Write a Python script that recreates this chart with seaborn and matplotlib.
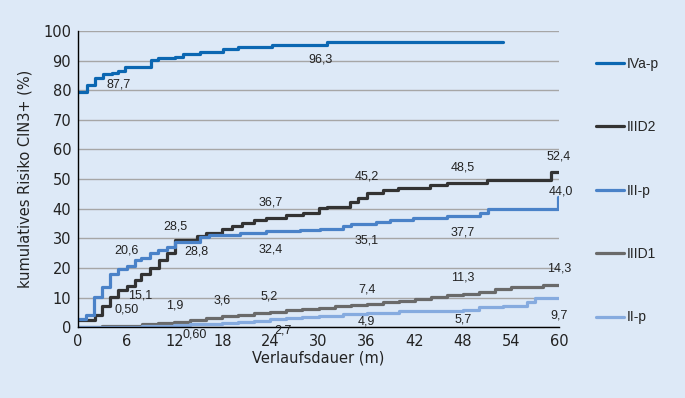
import pandas as pd
import matplotlib
matplotlib.use("Agg")
import matplotlib.pyplot as plt
import seaborn as sns

# step curves: month of each step and cumulative risk after it
iva_m = [0, 1.1, 2.1, 3.1, 4.2, 5.0, 5.9, 9.1, 10.0, 12.1, 13.1, 15.2, 18.1, 20.0, 24.2, 31.0, 53]
iva_v = [79.5, 81.8, 84.3, 85.4, 85.9, 86.6, 87.7, 90.2, 90.8, 91.3, 92.1, 93.0, 93.8, 94.5, 95.3, 96.3, 96.3]

iiid2_m = [0, 2.1, 3.0, 4.0, 5.0, 6.1, 7.1, 7.9, 9.0, 10.1, 11.1, 12.1, 14.8, 16.0, 17.9, 19.2, 20.5,
           22.0, 23.5, 26.0, 28.1, 30.0, 31.0, 33.9, 34.9, 36.0, 38.1, 39.9, 43.9, 46.0, 51.0, 59.0, 60]
iiid2_v = [2.4, 4.1, 7.1, 10.2, 12.5, 13.9, 15.9, 18.1, 19.9, 22.6, 24.9, 29.5, 30.7, 31.9, 33.0, 34.2, 35.3,
           36.2, 36.7, 37.8, 38.6, 40.1, 40.6, 42.3, 43.5, 45.4, 46.3, 47.1, 48.0, 48.8, 49.7, 52.4, 52.4]

iiip_m = [0, 1.0, 2.0, 3.0, 4.0, 5.0, 6.1, 7.1, 7.9, 9.0, 10.0, 11.1, 12.1, 15.2, 16.3, 20.2, 23.5,
          27.7, 30.2, 33.1, 34.1, 37.2, 38.9, 41.8, 46.0, 50.1, 51.2, 59.9, 60]
iiip_v = [2.9, 4.1, 10.2, 13.4, 18.1, 19.5, 20.6, 22.6, 23.5, 24.9, 26.0, 27.1, 28.8, 30.3, 31.1, 31.9, 32.4,
          32.8, 33.3, 34.1, 34.7, 35.4, 36.1, 36.7, 37.5, 38.6, 39.8, 44.0, 44.0]

iiid1_m = [0, 3, 6, 8, 10, 12, 14, 16, 18, 20, 22, 24, 26, 28, 30, 32, 34, 36, 38, 40, 42, 44,
           46, 48, 50, 52, 54, 56, 58, 60]
iiid1_v = [0, 0.25, 0.5, 0.9, 1.4, 1.9, 2.5, 3.0, 3.6, 4.2, 4.7, 5.2, 5.7, 6.2, 6.6, 7.0, 7.4, 7.8, 8.4,
           9.0, 9.6, 10.2, 10.8, 11.3, 12.0, 12.8, 13.4, 13.7, 14.3, 14.3]

iip_m = [0, 8, 12, 14, 16, 18, 20, 22, 24, 26, 28, 30, 33, 36, 40, 44, 48, 50, 53, 56, 57, 60]
iip_v = [0, 0.3, 0.6, 0.9, 1.1, 1.3, 1.6, 2.0, 2.7, 3.0, 3.4, 3.8, 4.6, 4.9, 5.4, 5.6, 5.7, 6.9, 7.3,
         8.5, 9.7, 9.7]

groups = ["IVa-p", "IIID2", "III-p", "IIID1", "II-p"]
colors = ["#0b67b2", "#333333", "#4a82c8", "#6a6a6a", "#86abdf"]

# value labels (text, month, risk)
lab_txt = ["87,7", "96,3", "28,5", "20,6", "28,8", "36,7", "32,4", "15,1", "0,50", "1,9", "3,6", "5,2",
           "0,60", "2,7", "45,2", "48,5", "52,4", "44,0", "35,1", "37,7", "14,3", "11,3", "7,4",
           "9,7", "5,7", "4,9"]
lab_x = [5.0, 30.2, 12.1, 6.1, 14.7, 24.0, 24.0, 7.7, 6.1, 12.1, 18.0, 23.9,
         14.6, 25.6, 36.0, 48.0, 60.0, 60.3, 36.0, 48.0, 60.0, 48.0, 36.0,
         60.0, 48.0, 36.0]
lab_y = [81.8, 90.5, 33.9, 26.0, 25.4, 42.0, 26.2, 10.8, 6.0, 7.2, 8.9, 10.5,
         -2.4, -1.0, 50.8, 54.0, 57.8, 45.9, 29.1, 31.9, 19.8, 16.8, 12.7,
         4.1, 2.6, 1.8]

frames = []
for g, m, v in zip(groups, [iva_m, iiid2_m, iiip_m, iiid1_m, iip_m],
                   [iva_v, iiid2_v, iiip_v, iiid1_v, iip_v]):
    frames.append(pd.DataFrame({"group": g, "month": m, "risk": v}))
df = pd.concat(frames, ignore_index=True)

bg = "#dde9f7"
sns.set_style("white")
plt.rcParams["font.family"] = ["DejaVu Sans"]

fig = plt.figure(figsize=(6.85, 3.98), dpi=100, facecolor=bg)
ax = fig.add_axes([0.114, 0.178, 0.702, 0.744])
ax.set_facecolor(bg)

sns.lineplot(data=df, x="month", y="risk", hue="group", hue_order=groups, palette=colors,
             estimator=None, sort=False, drawstyle="steps-post", linewidth=2.3, ax=ax, legend=False)

for t, x, y in zip(lab_txt, lab_x, lab_y):
    ax.text(x, y, t, ha="center", va="center", fontsize=9, color="#222222", clip_on=False,
            family="Liberation Sans")

ax.set_xlim(0, 60)
ax.set_ylim(0, 100)
ax.set_xticks(range(0, 61, 6))
ax.set_yticks(range(0, 101, 10))
ax.tick_params(labelsize=10.5, colors="#222222", length=3.5, width=1, direction="out", pad=1.5)
ax.grid(axis="y", color="#a6a6a6", linewidth=1)
ax.set_axisbelow(True)
for s in ["top", "right"]:
    ax.spines[s].set_visible(False)
for s in ["left", "bottom"]:
    ax.spines[s].set_color("black")
    ax.spines[s].set_linewidth(1)
ax.set_xlabel("Verlaufsdauer (m)", fontsize=10.5, color="#222222", labelpad=1)
ax.set_ylabel("kumulatives Risiko CIN3+ (%)", fontsize=10.5, color="#222222", labelpad=8)

handles = [plt.Line2D([], [], color=c, linewidth=2.3) for c in colors]
fig.legend(handles, groups, loc="upper left", bbox_to_anchor=(0.86, 0.875), frameon=False,
           prop={"family": "Liberation Sans", "size": 10},
           labelspacing=3.56, handlelength=2.0, handletextpad=0.2, borderpad=0)

fig.savefig("out.png", dpi=100, facecolor=bg)
